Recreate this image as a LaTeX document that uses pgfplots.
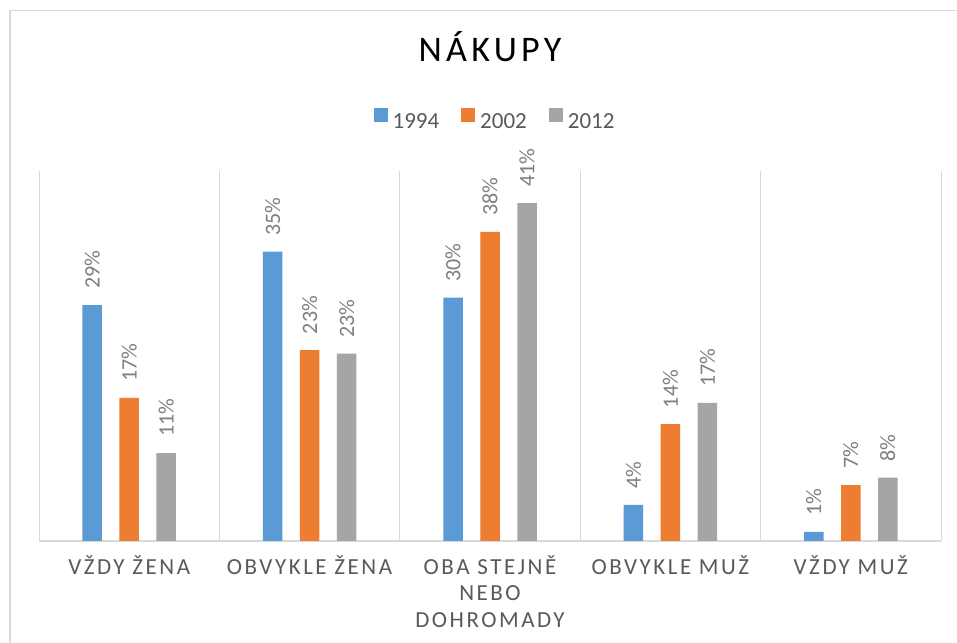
\documentclass[border=0pt]{standalone}
\usepackage{fontspec}
\setmainfont{Carlito}
\newfontfamily\spacedfont[LetterSpace=11]{Carlito}
\newfontfamily\titlefont[LetterSpace=12]{Carlito}
\usepackage{pgfplots}
\pgfplotsset{compat=1.18}
\definecolor{cblue}{HTML}{5B9BD5}
\definecolor{corange}{HTML}{ED7D31}
\definecolor{cgray}{HTML}{A5A5A5}
\definecolor{gridc}{HTML}{D9D9D9}
\definecolor{labc}{HTML}{595959}
\definecolor{datac}{HTML}{7F7F7F}
\begin{document}
\begin{tikzpicture}[x=1bp,y=1bp]
\useasboundingbox (0,0) rectangle (957,643);
\fill[white] (0,0) rectangle (957,643);
\draw[gridc, line width=1.5bp] (10,0) -- (10,632.5) -- (957,632.5);
\begin{axis}[
  at={(39bp,102bp)}, anchor=south west,
  scale only axis, width=902bp, height=370bp,
  xmin=-0.5, xmax=4.5, ymin=0, ymax=45,
  axis x line*=bottom, axis y line=none,
  x axis line style={gridc, line width=1.5bp, -},
  xtick={0,1,2,3,4},
  xticklabels={VŽDY ŽENA, OBVYKLE ŽENA, {OBA STEJNĚ\\NEBO\\DOHROMADY}, OBVYKLE MUŽ, VŽDY MUŽ},
  major tick length=0pt,
  minor xtick={-0.5,0.5,1.5,2.5,3.5,4.5},
  minor tick length=0pt,
  xminorgrids, minor grid style={gridc, line width=1bp},
  xticklabel style={font=\spacedfont\fontsize{23bp}{26.5bp}\selectfont, text=labc, align=center, yshift=-11bp},
  ybar, bar width=19.5bp,
  nodes near coords={\pgfmathprintnumber[fixed,precision=0,assume math mode=true]{\pgfplotspointmeta}\%},
  every node near coord/.append style={rotate=90, anchor=west, inner xsep=16bp, inner ysep=0pt, font=\fontsize{22bp}{24bp}\selectfont, text=datac},
  legend columns=3,
  legend image code/.code={\fill[#1,draw=none] (0bp,0bp) rectangle (14bp,14bp);},
  legend style={at={(axis description cs:0.3674,1.1405)}, anchor=west, draw=none, fill=none,
    font=\fontsize{23bp}{26bp}\selectfont, text=labc, nodes={inner sep=0pt},
    /tikz/every odd column/.append style={column sep=5bp},
    /tikz/every even column/.append style={column sep=22bp}},
  title={NÁKUPY},
  title style={at={(axis description cs:0.5,1.281)}, anchor=base, font=\titlefont\fontsize{36bp}{40bp}\selectfont, text=black},
]
\addplot[fill=cblue, draw=none, bar shift=-37bp] coordinates {(0,28.7) (1,35.2) (2,29.6) (3,4.4) (4,1.1)};
\addplot[fill=corange, draw=none, bar shift=0bp] coordinates {(0,17.4) (1,23.2) (2,37.6) (3,14.2) (4,6.8)};
\addplot[fill=cgray, draw=none, bar shift=37bp] coordinates {(0,10.7) (1,22.8) (2,41.1) (3,16.8) (4,7.7)};
\legend{1994,2002,2012}
\end{axis}
\end{tikzpicture}
\end{document}
